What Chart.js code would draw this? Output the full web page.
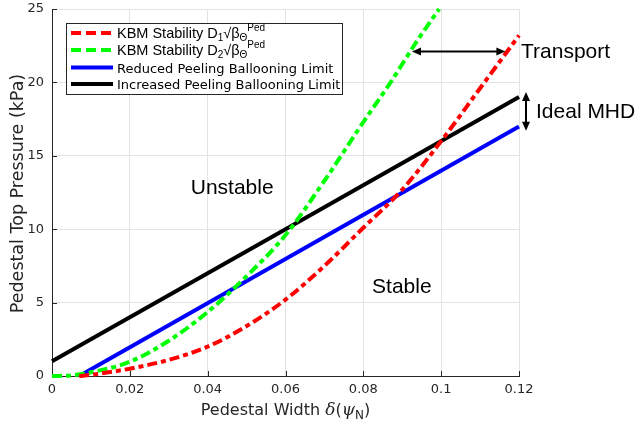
<!DOCTYPE html>
<html>
<head>
<meta charset="utf-8">
<script src="https://cdn.jsdelivr.net/npm/chart.js@4.4.1/dist/chart.umd.min.js"></script>
<style>
  html, body { margin: 0; padding: 0; background: #fff; }
  #wrap { width: 637px; height: 430px; }
</style>
</head>
<body>
<div id="wrap"><canvas id="c" width="637" height="430"></canvas></div>
<script>
// Pedestal width (psi_N) vs. pedestal top pressure (kPa)
const xTickValues = [0, 0.02, 0.04, 0.06, 0.08, 0.1, 0.12];
const xTickLabels = ['0', '0.02', '0.04', '0.06', '0.08', '0.1', '0.12'];
const yTickValues = [0, 5, 10, 15, 20, 25];
const yTickLabels = ['0', '5', '10', '15', '20', '25'];

// KBM stability, D1 * sqrt(beta_pol)
const kbmD1Width = [0.007, 0.01, 0.02, 0.03, 0.04, 0.05, 0.06, 0.07, 0.08, 0.09, 0.1, 0.11, 0.12];
const kbmD1Pressure = [0, 0.08, 0.5, 1.1, 2.0, 3.4, 5.2, 7.5, 10.1, 12.7, 16.0, 19.6, 23.2];

// KBM stability, D2 * sqrt(beta_pol)
const kbmD2Width = [0, 0.005, 0.01, 0.02, 0.03, 0.04, 0.05, 0.06, 0.07, 0.08, 0.087, 0.094, 0.0995];
const kbmD2Pressure = [0, 0.04, 0.25, 0.97, 2.4, 4.36, 6.8, 9.6, 13.3, 17.3, 20.0, 22.9, 25.0];

// Peeling-ballooning limits
const reducedPBWidth = [0.007, 0.12];
const reducedPBPressure = [0, 17];
const increasedPBWidth = [0, 0.12];
const increasedPBPressure = [1, 19];

// Text annotations (data coordinates)
const regionLabels = [
  { text: 'Unstable', x: 0.0463, y: 12.8 },
  { text: 'Stable', x: 0.0899, y: 6.06 }
];
const transportArrow = { x0: 0.0925, x1: 0.1165, y: 22.1 };
const idealArrow = { x: 0.1218, y0: 19.35, y1: 16.7 };

const toPoints = (xs, ys) => xs.map((x, i) => ({ x: x, y: ys[i] }));

const AXIS_COLOR = '#262626';
const GRID_COLOR = '#e3e3e3';
const PLOT_DASH = [10, 4, 5, 4];

const datasets = [
  { label: 'KBM D1', data: toPoints(kbmD1Width, kbmD1Pressure), borderColor: '#ff0000', borderDash: PLOT_DASH, order: 1 },
  { label: 'KBM D2', data: toPoints(kbmD2Width, kbmD2Pressure), borderColor: '#00ff00', borderDash: PLOT_DASH, order: 2 },
  { label: 'Reduced Peeling Ballooning Limit', data: toPoints(reducedPBWidth, reducedPBPressure), borderColor: '#0000ff', order: 3 },
  { label: 'Increased Peeling Ballooning Limit', data: toPoints(increasedPBWidth, increasedPBPressure), borderColor: '#000000', order: 4 }
].map(d => Object.assign({
  showLine: true, pointRadius: 0, borderWidth: 4, fill: false,
  cubicInterpolationMode: 'monotone', clip: false, borderCapStyle: 'butt'
}, d));

// Draw a run of text pieces with size/baseline shifts
function drawRich(ctx, x, y, parts) {
  let cx = x;
  parts.forEach(p => {
    ctx.font = p.font;
    ctx.fillText(p.t, cx, y + (p.dy || 0));
    cx += ctx.measureText(p.t).width;
  });
  return cx;
}

function arrowHead(ctx, x, y, ang, len, half) {
  ctx.save();
  ctx.translate(x, y);
  ctx.rotate(ang);
  ctx.beginPath();
  ctx.moveTo(0, 0);
  ctx.lineTo(-len, -half);
  ctx.lineTo(-len, half);
  ctx.closePath();
  ctx.fill();
  ctx.restore();
}

const decorPlugin = {
  id: 'decor',
  beforeDatasetsDraw(chart) {
    // inward tick marks on left and bottom axes
    const ctx = chart.ctx, xs = chart.scales.x, ys = chart.scales.y, a = chart.chartArea;
    ctx.save();
    ctx.strokeStyle = AXIS_COLOR;
    ctx.lineWidth = 1;
    ctx.beginPath();
    xTickValues.forEach(v => {
      const px = Math.round(xs.getPixelForValue(v)) + 0.5;
      ctx.moveTo(px, a.bottom); ctx.lineTo(px, a.bottom - 5);
    });
    yTickValues.forEach(v => {
      const py = Math.round(ys.getPixelForValue(v)) + 0.5;
      ctx.moveTo(a.left, py); ctx.lineTo(a.left + 5, py);
    });
    ctx.stroke();
    ctx.restore();
  },
  afterDraw(chart) {
    const ctx = chart.ctx, xs = chart.scales.x, ys = chart.scales.y, a = chart.chartArea;
    ctx.save();

    // axis titles
    ctx.fillStyle = AXIS_COLOR;
    ctx.textBaseline = 'middle';
    ctx.save();
    ctx.translate(18, (a.top + a.bottom) / 2 + 1);
    ctx.rotate(-Math.PI / 2);
    ctx.font = '17.5px "DejaVu Sans"';
    ctx.textAlign = 'center';
    ctx.fillText('Pedestal Top Pressure (kPa)', 0, 0);
    ctx.restore();

    ctx.textAlign = 'left';
    const titleParts = [
      { t: 'Pedestal Width ', font: '16px "DejaVu Sans"' },
      { t: 'δ', font: 'italic 17px "DejaVu Serif"' },
      { t: '(', font: '16px "DejaVu Sans"' },
      { t: 'ψ', font: 'italic 17px "DejaVu Serif"' },
      { t: 'N', font: '12px "DejaVu Sans"', dy: 5 },
      { t: ')', font: '16px "DejaVu Sans"' }
    ];
    let tw = 0;
    titleParts.forEach(p => { ctx.font = p.font; tw += ctx.measureText(p.t).width; });
    drawRich(ctx, (a.left + a.right) / 2 - tw / 2, 411, titleParts);

    // region labels
    ctx.fillStyle = '#000';
    ctx.font = '21px "Liberation Sans"';
    ctx.textAlign = 'center';
    regionLabels.forEach(l => ctx.fillText(l.text, xs.getPixelForValue(l.x), ys.getPixelForValue(l.y)));

    // Transport arrow
    ctx.strokeStyle = '#000';
    ctx.lineWidth = 2;
    const tx0 = xs.getPixelForValue(transportArrow.x0), tx1 = xs.getPixelForValue(transportArrow.x1);
    const ty = ys.getPixelForValue(transportArrow.y);
    ctx.beginPath(); ctx.moveTo(tx0 + 6, ty); ctx.lineTo(tx1 - 6, ty); ctx.stroke();
    arrowHead(ctx, tx1, ty, 0, 9, 4);
    arrowHead(ctx, tx0, ty, Math.PI, 9, 4);
    ctx.textAlign = 'left';
    ctx.fillText('Transport', a.right + 2, ty + 1);

    // Ideal MHD arrow
    const ix = xs.getPixelForValue(idealArrow.x);
    const iy0 = ys.getPixelForValue(idealArrow.y0), iy1 = ys.getPixelForValue(idealArrow.y1);
    ctx.beginPath(); ctx.moveTo(ix, iy0 + 6); ctx.lineTo(ix, iy1 - 6); ctx.stroke();
    arrowHead(ctx, ix, iy0, -Math.PI / 2, 9, 4);
    arrowHead(ctx, ix, iy1, Math.PI / 2, 9, 4);
    ctx.fillText('Ideal MHD', ix + 10, (iy0 + iy1) / 2 + 1);

    // legend
    const lx = 66.5, ly = 23.5, lw = 276, lh = 71;
    ctx.fillStyle = '#fff';
    ctx.fillRect(lx, ly, lw, lh);
    ctx.strokeStyle = AXIS_COLOR;
    ctx.lineWidth = 1;
    ctx.strokeRect(lx, ly, lw, lh);
    const rows = [
      { color: '#ff0000', dash: [10, 5], sub: '1' },
      { color: '#00ff00', dash: [10, 5], sub: '2' },
      { color: '#0000ff', dash: [], text: datasets[2].label },
      { color: '#000000', dash: [], text: datasets[3].label }
    ];
    const rowY = [33, 50, 67.5, 84];
    rows.forEach((r, i) => {
      const y = rowY[i];
      ctx.strokeStyle = r.color;
      ctx.lineWidth = 4;
      ctx.setLineDash(r.dash);
      ctx.beginPath(); ctx.moveTo(71, y); ctx.lineTo(113, y); ctx.stroke();
      ctx.setLineDash([]);
      ctx.fillStyle = '#000';
      ctx.textAlign = 'left';
      ctx.textBaseline = 'alphabetic';
      if (r.text) {
        ctx.font = '13px "DejaVu Sans"';
        ctx.fillText(r.text, 117, y + 5);
      } else {
        drawRich(ctx, 117, y + 5, [
          { t: 'KBM Stability D', font: '14.5px "Liberation Sans"' },
          { t: r.sub, font: '10px "Liberation Sans"', dy: 3 },
          { t: '√β', font: '14.5px "Liberation Sans"' },
          { t: 'Θ', font: '10px "Liberation Sans"', dy: 3 },
          { t: 'Ped', font: '10px "Liberation Sans"', dy: -7 }
        ]);
      }
    });
    ctx.restore();
  }
};

new Chart(document.getElementById('c'), {
  type: 'scatter',
  data: { datasets: datasets },
  options: {
    responsive: false,
    animation: false,
    layout: { autoPadding: false, padding: { top: 9, right: 118, left: 0, bottom: 0 } },
    plugins: { legend: { display: false }, tooltip: { enabled: false } },
    scales: {
      x: {
        type: 'linear', min: 0, max: 0.12,
        afterBuildTicks: s => { s.ticks = xTickValues.map(v => ({ value: v })); },
        afterFit: s => { s.height = 54; s.paddingLeft = 0; s.paddingRight = 0; },
        ticks: {
          callback: (v, i) => xTickLabels[i],
          color: AXIS_COLOR, font: { family: 'DejaVu Sans', size: 13 },
          padding: 6, maxRotation: 0, autoSkip: false
        },
        grid: { color: GRID_COLOR, drawTicks: false, lineWidth: 1 },
        border: { display: true, color: AXIS_COLOR, width: 1 }
      },
      y: {
        type: 'linear', min: 0, max: 25,
        afterBuildTicks: s => { s.ticks = yTickValues.map(v => ({ value: v })); },
        afterFit: s => { s.width = 52; s.paddingTop = 0; s.paddingBottom = 0; },
        ticks: {
          callback: (v, i) => yTickLabels[i],
          color: AXIS_COLOR, font: { family: 'DejaVu Sans', size: 13 },
          padding: 8, autoSkip: false
        },
        grid: { color: GRID_COLOR, drawTicks: false, lineWidth: 1 },
        border: { display: true, color: AXIS_COLOR, width: 1 }
      }
    }
  },
  plugins: [decorPlugin]
});
</script>
</body>
</html>
